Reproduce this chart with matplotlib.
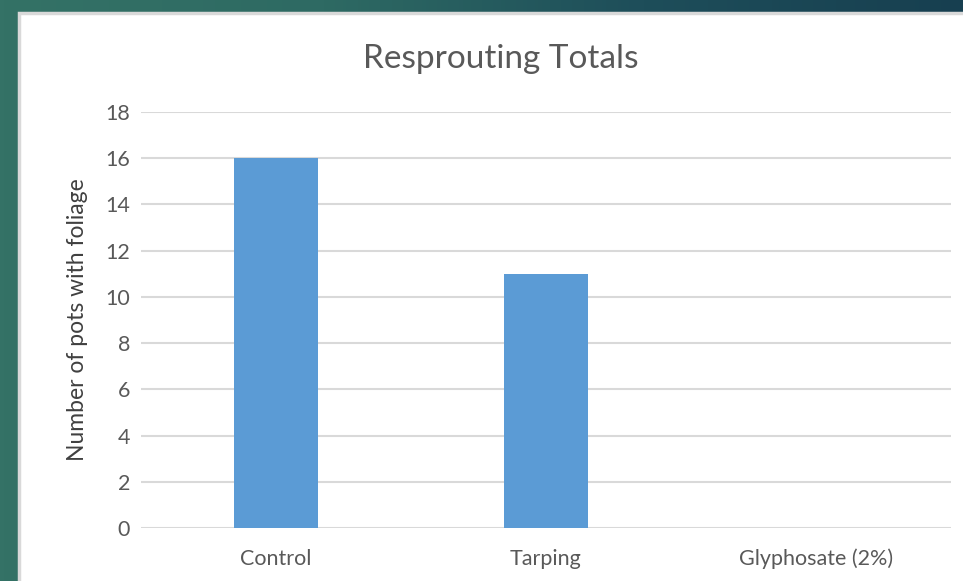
import numpy as np
import matplotlib
matplotlib.use("Agg")
import matplotlib.pyplot as plt
from matplotlib.colors import LinearSegmentedColormap

categories = ["Control", "Tarping", "Glyphosate (2%)"]
values = [16, 11, 0]
yticks = [0, 2, 4, 6, 8, 10, 12, 14, 16, 18]

plt.rcParams['font.family'] = ['Lato', 'DejaVu Sans']

W, H = 963, 581
fig = plt.figure(figsize=(W / 100, H / 100), dpi=100)

# background gradient
bg = fig.add_axes([0, 0, 1, 1], zorder=-10)
cmap = LinearSegmentedColormap.from_list("bg", ["#347266", "#2e6a63", "#1e4e5a", "#173f50"])
grad = np.linspace(0, 1, 256).reshape(1, -1)
bg.imshow(grad, aspect='auto', cmap=cmap, extent=[0, 1, 0, 1])
bg.set_xlim(0, 1); bg.set_ylim(0, 1)
bg.axis('off')

# white panel with light border
px0 = 19 / W
py1 = 1 - 13 / H
bg.add_patch(plt.Rectangle((px0, -0.02), 1 - px0 + 0.02, py1 + 0.02, facecolor='white',
                           edgecolor='#d9d9d9', linewidth=2.5, zorder=2))

ax = fig.add_axes([141 / W, (H - 528) / H, (951 - 141) / W, (528 - 112) / H])
ax.set_facecolor('none')
x = np.arange(len(categories))
ax.bar(x, values, width=0.31, color='#5b9bd5', zorder=3)
ax.set_xlim(-0.5, len(categories) - 0.5)
ax.set_ylim(0, 18)
ax.set_yticks(yticks)
ax.set_xticks(x)
ax.set_xticklabels(categories)
ax.yaxis.grid(True, color='#d9d9d9', linewidth=1.5, zorder=0)
ax.set_axisbelow(True)
for s in ax.spines.values():
    s.set_visible(False)
ax.tick_params(length=0, labelsize=15.5, labelcolor='#595959', pad=8)
ax.tick_params(axis='x', pad=15)
ax.set_ylabel("Number of pots with foliage", fontsize=16.5, color='#404040', labelpad=12)
fig.text(501 / W, 1 - 59 / H, "Resprouting Totals", ha='center', va='center',
         fontsize=24, color='#595959')

fig.savefig("out.png", dpi=100)
